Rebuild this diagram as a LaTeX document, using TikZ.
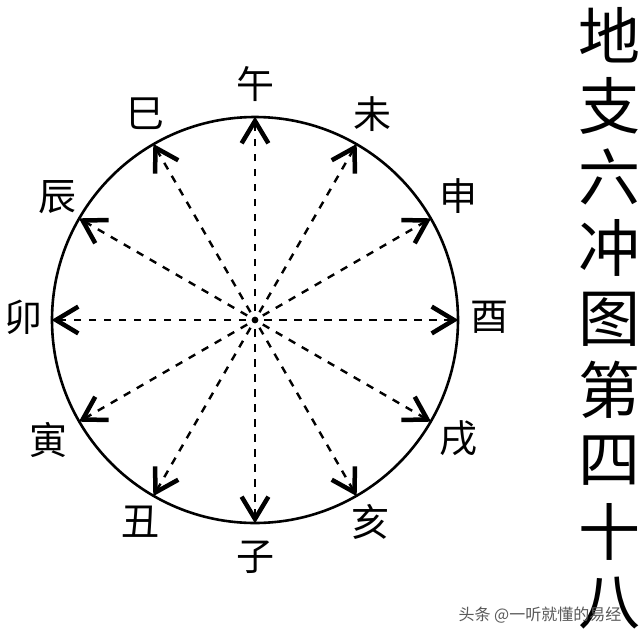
\documentclass[tikz,border=0pt]{standalone}
\usepackage{fontspec}
\newfontfamily\cjk{Noto Sans CJK SC}
\begin{document}
\begin{tikzpicture}[x=1pt,y=-1pt,
  ring/.style={line width=2.6pt},
  dashline/.style={line width=2.4pt, dash pattern=on 7.5pt off 7.5pt},
  barb/.style={line width=4.5pt, line join=miter, miter limit=10},
  branch/.style={font=\cjk\fontsize{38}{38}\selectfont, inner sep=0pt},
  titlechar/.style={font=\cjk\fontsize{62}{62}\selectfont, inner sep=0pt},
  wmark/.style={font=\cjk\fontsize{16}{16}\selectfont, inner sep=0pt, text=black!65}
]
\useasboundingbox (0,0) rectangle (640,641);
\fill[white] (0,0) rectangle (640,641);
\coordinate (c) at (255,320);
\draw[ring] (c) circle[radius=203];
\fill (c) circle[radius=3.4];
\foreach \a in {0,30,...,330}{
  \coordinate (s\a) at ({255+9*cos(\a)},{320-9*sin(\a)});
  \coordinate (t\a) at ({255+199*cos(\a)},{320-199*sin(\a)});
  \coordinate (l\a) at ({255+199*cos(\a)+26*cos(\a+211)},{320-199*sin(\a)-26*sin(\a+211)});
  \coordinate (r\a) at ({255+199*cos(\a)+26*cos(\a+149)},{320-199*sin(\a)-26*sin(\a+149)});
  \draw[dashline] (s\a) -- (t\a);
  \draw[barb] (l\a) -- (t\a) -- (r\a);
}
% branch labels
\node[branch] (wu)   at (255,84)  {午};
\node[branch] (wei)  at (372,114) {未};
\node[branch] (shen) at (458,196) {申};
\node[branch] (you)  at (489,317) {酉};
\node[branch] (xu)   at (458,438) {戌};
\node[branch] (hai)  at (370,522) {亥};
\node[branch] (zi)   at (255,557) {子};
\node[branch] (chou) at (140,522) {丑};
\node[branch] (yin)  at (48,440)  {寅};
\node[branch] (mao)  at (24,317)  {卯};
\node[branch] (chen) at (57,197)  {辰};
\node[branch] (si)   at (145,114) {巳};
% title
\foreach \ch [count=\i from 0] in {地,支,六,冲,图,第,四,十,八}{
  \node[titlechar] (title\i) at (609,{35+71*\i}) {\ch};
}
% watermark
\node[wmark] (wm) at (540,615) {头条 @一听就懂的易经};
\end{tikzpicture}
\end{document}
